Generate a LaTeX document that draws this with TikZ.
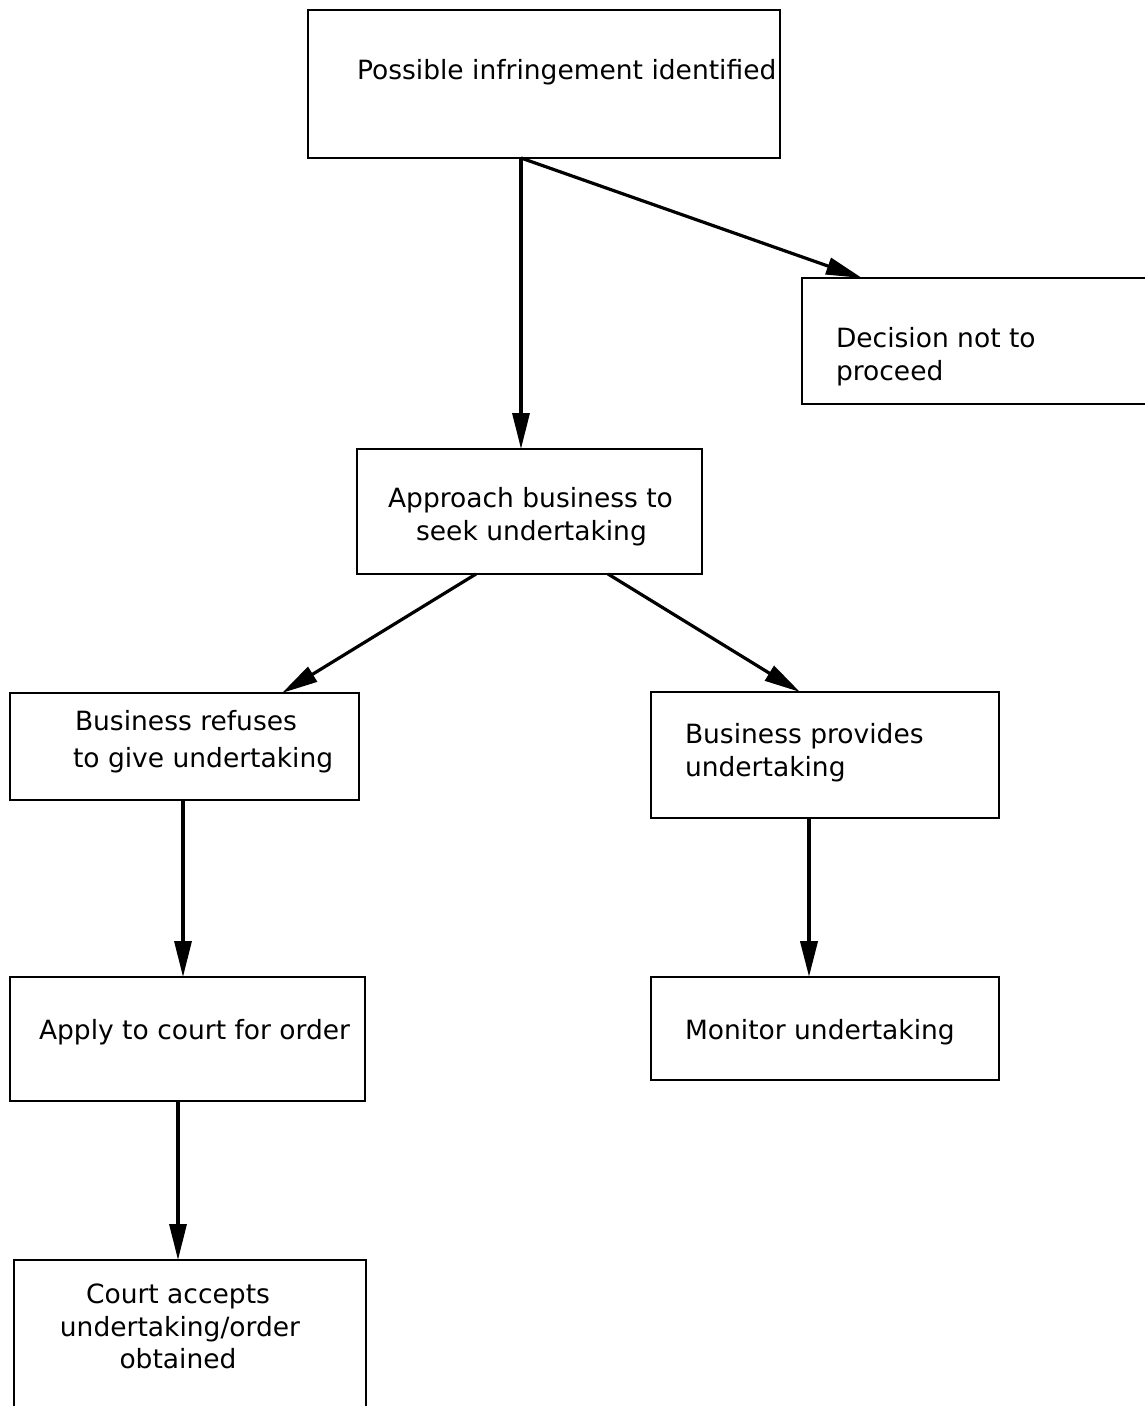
\documentclass[tikz,border=0pt]{standalone}
\usepackage{fontspec}
\setmainfont{DejaVu Sans}
\usetikzlibrary{arrows.meta,calc}
\begin{document}
\begin{tikzpicture}[x=1pt,y=-1pt,
  box/.style={draw,line width=1.8pt,inner sep=0pt,outer sep=0pt},
  txt/.style={inner sep=0pt,outer sep=0pt,font=\fontsize{26.5}{33}\selectfont},
  arr/.style={line width=3.2pt,-{Triangle[length=36pt,width=17pt]}}]
\useasboundingbox (0,0) rectangle (1145,1406);
% boxes
\node[box,minimum width=472,minimum height=148] (top) at (544,84) {};
\node[box,minimum width=348,minimum height=126] (decision) at (976,341) {};
\node[box,minimum width=345,minimum height=125] (approach) at (529.5,511.5) {};
\node[box,minimum width=349,minimum height=107] (refuses) at (184.5,746.5) {};
\node[box,minimum width=348,minimum height=126] (provides) at (825,755) {};
\node[box,minimum width=355,minimum height=124] (apply) at (187.5,1039) {};
\node[box,minimum width=348,minimum height=103] (monitor) at (825,1028.5) {};
\node[box,minimum width=352,minimum height=150] (court) at (190,1335) {};
% texts
\node[txt,anchor=base west] (t1) at (357,79) {Possible infringement identified};
\node[txt,anchor=base west] (t2a) at (836,347) {Decision not to};
\node[txt,anchor=base west] (t2b) at (836,380) {proceed};
\node[txt,anchor=base] (t3a) at (530.5,507) {Approach business to};
\node[txt,anchor=base] (t3b) at (531.5,540) {seek undertaking};
\node[txt,anchor=base west] (t4a) at (75,730) {Business refuses};
\node[txt,anchor=base west] (t4b) at (73,767) {to give undertaking};
\node[txt,anchor=base west] (t5a) at (685,743) {Business provides};
\node[txt,anchor=base west] (t5b) at (685,776) {undertaking};
\node[txt,anchor=base west] (t6) at (39,1039) {Apply to court for order};
\node[txt,anchor=base west] (t7) at (685,1039) {Monitor undertaking};
\node[txt,anchor=base] (t8a) at (178,1303) {Court accepts};
\node[txt,anchor=base] (t8b) at (180,1336) {undertaking/order};
\node[txt,anchor=base] (t8c) at (178,1368) {obtained};
% connectors
\draw[arr] (top.south -| 521,0) -- (approach.north -| 521,0);
\draw[arr] (top.south -| 521,0) -- ($(decision.north west)+(60,0)$);
\draw[arr] (approach.south -| 476,0) -- (refuses.north -| 282,0);
\draw[arr] (approach.south -| 608,0) -- (provides.north -| 800,0);
\draw[arr] (refuses.south -| 183,0) -- (apply.north -| 183,0);
\draw[arr,line width=4pt] (provides.south -| 809,0) -- (monitor.north -| 809,0);
\draw[arr] (apply.south -| 178,0) -- (court.north -| 178,0);
\end{tikzpicture}
\end{document}
